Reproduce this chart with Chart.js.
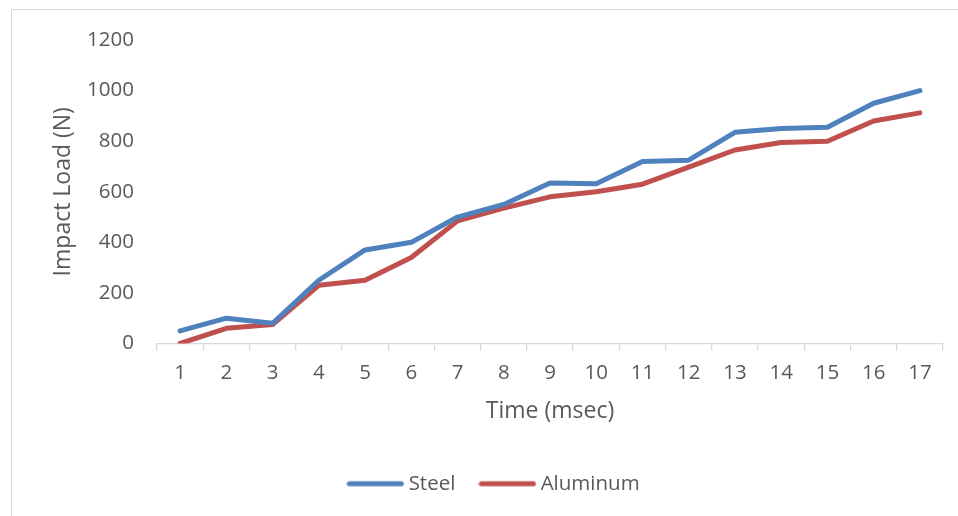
<!DOCTYPE html>
<html>
<head>
<meta charset="utf-8">
<script src="https://cdn.jsdelivr.net/npm/chart.js@4/dist/chart.umd.min.js"></script>
<style>
  html, body { margin: 0; padding: 0; background: #ffffff; overflow: hidden; width: 958px; height: 516px; }
  #frame {
    position: absolute; left: 11px; top: 9px;
    width: 966px; height: 526px;
    border-left: 1px solid #d9d9d9; border-top: 1px solid #d9d9d9;
  }
  #chart { display: block; }
</style>
</head>
<body>
<div id="frame"><canvas id="chart" width="966" height="526"></canvas></div>
<script>
// Time steps (msec)
const timeLabels = ['1','2','3','4','5','6','7','8','9','10','11','12','13','14','15','16','17'];
// Impact load (N) per material
const steelLoad    = [50, 100, 80, 250, 370, 400, 500, 550, 635, 632, 720, 725, 835, 850, 855, 950, 1000];
const aluminumLoad = [0, 60, 75, 230, 250, 340, 485, 535, 580, 600, 630, 697, 765, 795, 800, 880, 912];
// Value axis ticks
const yTicks = [0, 200, 400, 600, 800, 1000, 1200];

const textColor = '#595959';
const axisColor = '#d9d9d9';
const fontFamily = '"Open Sans", "Liberation Sans", sans-serif';

// Legend swatch: a short thick line with round ends
function lineSwatch(color) {
  const c = document.createElement('canvas');
  c.width = 58; c.height = 8;
  const g = c.getContext('2d');
  g.strokeStyle = color; g.lineWidth = 5; g.lineCap = 'round';
  g.beginPath(); g.moveTo(3, 4); g.lineTo(55, 4); g.stroke();
  return c;
}

const series = [
  { label: 'Steel', data: steelLoad, color: '#4f81bd' },
  { label: 'Aluminum', data: aluminumLoad, color: '#c0504d' }
];

new Chart(document.getElementById('chart'), {
  type: 'line',
  data: {
    labels: timeLabels,
    datasets: series.map(s => ({
      label: s.label,
      data: s.data,
      borderColor: s.color,
      backgroundColor: s.color,
      borderWidth: 5,
      borderCapStyle: 'round',
      borderJoinStyle: 'round',
      pointRadius: 0,
      pointHoverRadius: 0,
      tension: 0,
      fill: false
    }))
  },
  options: {
    responsive: false,
    animation: false,
    events: [],
    layout: { padding: { left: 37, right: 35, top: 30, bottom: 32 } },
    plugins: {
      tooltip: { enabled: false },
      legend: {
        position: 'bottom',
        labels: {
          usePointStyle: true,
          pointStyleWidth: 46,
          padding: 29,
          color: textColor,
          font: { family: fontFamily, size: 20.5 },
          generateLabels(chart) {
            return chart.data.datasets.map((ds, i) => ({
              text: ds.label,
              fillStyle: ds.borderColor,
              strokeStyle: ds.borderColor,
              lineWidth: 0,
              pointStyle: lineSwatch(ds.borderColor),
              fontColor: textColor,
              hidden: false,
              datasetIndex: i
            }));
          }
        }
      }
    },
    scales: {
      x: {
        type: 'category',
        offset: true,
        afterFit(scale) { scale.height = 101; },
        grid: {
          offset: true,
          drawOnChartArea: false,
          drawTicks: true,
          tickLength: 7,
          color: axisColor,
          lineWidth: 1.3
        },
        border: { display: true, color: axisColor, width: 1.3 },
        ticks: {
          color: textColor,
          font: { family: fontFamily, size: 20.5 },
          padding: 10,
          maxRotation: 0,
          autoSkip: false
        },
        title: {
          display: true,
          text: 'Time (msec)',
          color: textColor,
          font: { family: fontFamily, size: 23 },
          padding: { top: 0, bottom: 19 }
        }
      },
      y: {
        min: yTicks[0],
        max: yTicks[yTicks.length - 1],
        afterFit(scale) {
          scale.width = 108;
          scale.paddingTop = 0;
          scale.paddingBottom = 0;
        },
        afterBuildTicks(scale) { scale.ticks = yTicks.map(v => ({ value: v })); },
        grid: { display: false, drawTicks: false },
        border: { display: false },
        ticks: {
          color: textColor,
          font: { family: fontFamily, size: 20.5 },
          padding: 23,
          callback: v => String(v)
        },
        title: {
          display: true,
          text: 'Impact Load (N)',
          color: textColor,
          font: { family: fontFamily, size: 23 },
          padding: { top: 1, bottom: 0 }
        }
      }
    }
  }
});
</script>
</body>
</html>
